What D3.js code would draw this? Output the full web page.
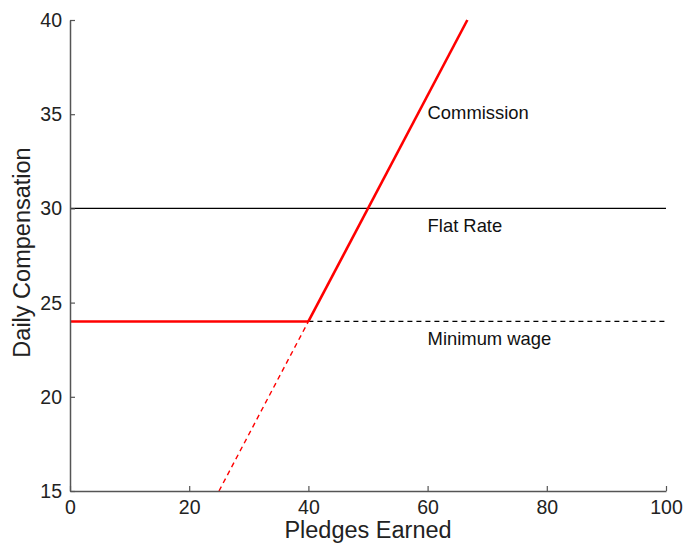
<!DOCTYPE html>
<html><head><meta charset="utf-8">
<script src="https://cdn.jsdelivr.net/npm/d3@7"></script>
<style>body{margin:0;background:#fff}svg{display:block}text{font-family:"Liberation Sans",Arial,Helvetica,sans-serif}</style>
</head><body>
<svg id="c" width="687" height="546"></svg>
<script>
const xTicks=[0,20,40,60,80,100];
const yTicks=[15,20,25,30,35,40];
const minWageSolid=[[0,24],[40,24]];
const commissionSolid=[[40,24],[66.67,40]];
const commissionDashed=[[25,15],[40,24]];
const flatRate=[[0,30],[100,30]];
const minWageDashed=[[40,24],[100,24]];
const labels=[{x:60,y:35,t:"Commission"},{x:60,y:29,t:"Flat Rate"},{x:60,y:23,t:"Minimum wage"}];

const svg=d3.select("#c");
const m={l:70,r:666,t:20,b:491};
const x=d3.scaleLinear().domain([0,100]).range([m.l,m.r]);
const y=d3.scaleLinear().domain([15,40]).range([m.b,m.t]);
const line=d3.line().x(d=>x(d[0])).y(d=>y(d[1]));

svg.append("path").attr("d",line(flatRate)).attr("stroke","#000").attr("stroke-width",1.3).attr("fill","none");
svg.append("path").attr("d",line(minWageDashed)).attr("stroke","#000").attr("stroke-width",1.2).attr("stroke-dasharray","5,4").attr("fill","none");
svg.append("path").attr("d",line(commissionDashed)).attr("stroke","#f00").attr("stroke-width",1.4).attr("stroke-dasharray","5,4").attr("fill","none");
svg.append("path").attr("d",line(minWageSolid)).attr("stroke","#f00").attr("stroke-width",2.6).attr("fill","none");
svg.append("path").attr("d",line(commissionSolid)).attr("stroke","#f00").attr("stroke-width",2.6).attr("fill","none");

const ax=svg.append("g").attr("transform",`translate(0,${m.b})`)
  .call(d3.axisBottom(x).tickValues(xTicks).tickSizeInner(-5).tickSizeOuter(0).tickPadding(10));
const ay=svg.append("g").attr("transform",`translate(${m.l},0)`)
  .call(d3.axisLeft(y).tickValues(yTicks).tickSizeInner(-5).tickSizeOuter(0).tickPadding(8));
[ax,ay].forEach(g=>{
  g.select(".domain").attr("stroke","#555").attr("stroke-width",1.5);
  g.selectAll(".tick line").attr("stroke","#555").attr("stroke-width",1.2);
  g.selectAll(".tick text").attr("fill","#222").style("font-size","19.5px").style("font-family","'Liberation Sans',Arial,sans-serif");
});
ax.selectAll(".tick text").attr("y",23).attr("dy",0);
ay.selectAll(".tick text").attr("dy","0.33em");

svg.selectAll(".lbl").data(labels).enter().append("text")
  .attr("x",d=>x(d.x)).attr("y",d=>y(d.y)+4.3)
  .attr("fill","#111").style("font-size","18.4px").text(d=>d.t);

svg.append("text").attr("x",(m.l+m.r)/2).attr("y",538).attr("text-anchor","middle")
  .attr("fill","#222").style("font-size","23.5px").text("Pledges Earned");
svg.append("text").attr("transform",`translate(30,${(m.t+m.b)/2-3}) rotate(-90)`).attr("text-anchor","middle")
  .attr("fill","#222").style("font-size","23.5px").text("Daily Compensation");
</script>
</body></html>
